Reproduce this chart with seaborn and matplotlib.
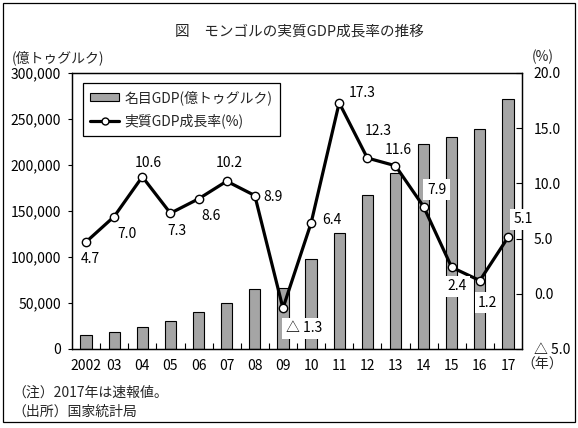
import numpy as np
import pandas as pd
import matplotlib
matplotlib.use("Agg")
import matplotlib.pyplot as plt
import seaborn as sns
from matplotlib.patches import Patch, Rectangle
from matplotlib.lines import Line2D
from matplotlib.ticker import FixedLocator

# ---- data ----
years = ["2002", "03", "04", "05", "06", "07", "08", "09",
         "10", "11", "12", "13", "14", "15", "16", "17"]
nominal_gdp = [15300, 18600, 24100, 30700, 40500, 50400, 65700, 66000,
               98000, 125700, 167100, 191000, 222800, 230800, 238800, 271400]
real_growth = [4.7, 7.0, 10.6, 7.3, 8.6, 10.2, 8.9, -1.3,
               6.4, 17.3, 12.3, 11.6, 7.9, 2.4, 1.2, 5.1]
left_ticks = [0, 50000, 100000, 150000, 200000, 250000, 300000]
right_ticks = [-5, 0, 5, 10, 15, 20]

title = "図　モンゴルの実質GDP成長率の推移"
bar_label = "名目GDP(億トゥグルク)"
line_label = "実質GDP成長率(%)"
left_unit = "(億トゥグルク)"
right_unit = "(%)"
year_unit = "（年）"
note1 = "（注）2017年は速報値。"
note2 = "（出所）国家統計局"

# label offsets in pixels (dx right, dy down)
label_offsets = [(4, 17), (13, 17), (6, -14), (6, 18), (12, 17), (3, -18),
                 (18, 1), (21, 20), (21, -3), (23, -10), (11, -27), (3, -16),
                 (13, -17), (5, 19), (8, 22), (15, -18)]
label_box = [False, False, False, False, False, False, False, True,
             False, False, False, True, True, True, True, True]

sns.set_theme(style="white")
plt.rcParams['font.family'] = ['Noto Sans CJK JP', 'DejaVu Sans']
plt.rcParams['axes.unicode_minus'] = False

W, H = 578, 428
fig = plt.figure(figsize=(W / 100, H / 100), dpi=100)
fig.patch.set_facecolor("white")
ax = fig.add_axes([72 / W, 1 - 349 / H, (522 - 72) / W, (349 - 73) / H])

df = pd.DataFrame({"year": years, "gdp": nominal_gdp, "growth": real_growth})

bar_color = "#a5a5a5"
sns.barplot(data=df, x="year", y="gdp", ax=ax, color=bar_color, saturation=1,
            edgecolor="black", linewidth=0.8, width=0.4)
ax.set_xlim(-0.5, len(years) - 0.5)
ax.set_ylim(0, 300000)
ax.set_yticks(left_ticks)
ax.set_yticklabels([f"{v:,}" for v in left_ticks])
ax.set_xlabel("")
ax.set_ylabel("")
ax.tick_params(axis="y", direction="out", length=3, width=0.8, pad=5,
               labelsize=10, colors="black", left=True)
ax.tick_params(axis="x", which="major", length=0, pad=7, labelsize=10, colors="black")
ax.xaxis.set_minor_locator(FixedLocator(np.arange(0.5, len(years) - 1, 1)))
ax.tick_params(axis="x", which="minor", direction="in", length=4, width=0.8,
               bottom=True, color="black")
for s in ax.spines.values():
    s.set_visible(True)
    s.set_color("black")
    s.set_linewidth(0.9)

ax2 = ax.twinx()
sns.lineplot(x=np.arange(len(years)), y=real_growth, ax=ax2, color="black",
             linewidth=2.3, marker="o", markersize=6, markerfacecolor="white",
             markeredgecolor="black", markeredgewidth=1.0)
ax2.set_xlim(-0.5, len(years) - 0.5)
ax2.set_ylim(-5, 20)
ax2.set_yticks(right_ticks)
ax2.set_yticklabels([("△ " + f"{abs(v):.1f}") if v < 0 else f"{v:.1f}" for v in right_ticks])
ax2.set_ylabel("")
ax2.tick_params(axis="y", direction="in", length=4, width=0.8, pad=8.5,
                labelsize=10, colors="black", right=True)
for s in ax2.spines.values():
    s.set_visible(True)
    s.set_color("black")
    s.set_linewidth(0.9)
ax2.grid(False)
ax.grid(False)

for i, v in enumerate(real_growth):
    txt = ("△ " + f"{abs(v):.1f}") if v < 0 else f"{v:.1f}"
    dx, dy = label_offsets[i]
    kw = {}
    if label_box[i]:
        kw["bbox"] = dict(boxstyle="square,pad=0.25", fc="white", ec="none")
    ax2.annotate(txt, (i, v), xytext=(dx, -dy), textcoords="offset pixels",
                 ha="center", va="center", fontsize=10, color="black", **kw)

handles = [Patch(facecolor=bar_color, edgecolor="black", linewidth=0.8),
           Line2D([], [], color="black", linewidth=2.3, marker="o", markersize=5,
                  markerfacecolor="white", markeredgecolor="black")]
leg = ax2.legend(handles, [bar_label, line_label], loc="upper left",
                 bbox_to_anchor=(11 / 450, 1 - 10 / 276), borderaxespad=0,
                 frameon=True, fancybox=False, framealpha=1, edgecolor="black",
                 fontsize=10, handlelength=2.1, handleheight=0.5,
                 handletextpad=0.4, borderpad=0.5, labelspacing=0.65)
leg.get_frame().set_linewidth(0.9)

fig.text(299 / W, 1 - 32 / H, title, ha="center", va="center", fontsize=10.5)
fig.text(12 / W, 1 - 58 / H, left_unit, ha="left", va="center", fontsize=10)
fig.text(543 / W, 1 - 57 / H, right_unit, ha="center", va="center", fontsize=10)
fig.text(521 / W, 1 - 365 / H, year_unit, ha="left", va="center", fontsize=10)
fig.text(12 / W, 1 - 393 / H, note1, ha="left", va="center", fontsize=10)
fig.text(12 / W, 1 - 412 / H, note2, ha="left", va="center", fontsize=10)

fig.patches.append(Rectangle((3 / W, 1 - 422 / H), (575 - 3) / W, (422 - 3) / H,
                             transform=fig.transFigure, fill=False,
                             edgecolor="black", linewidth=0.9))

fig.savefig("out.png", dpi=100, facecolor="white")
